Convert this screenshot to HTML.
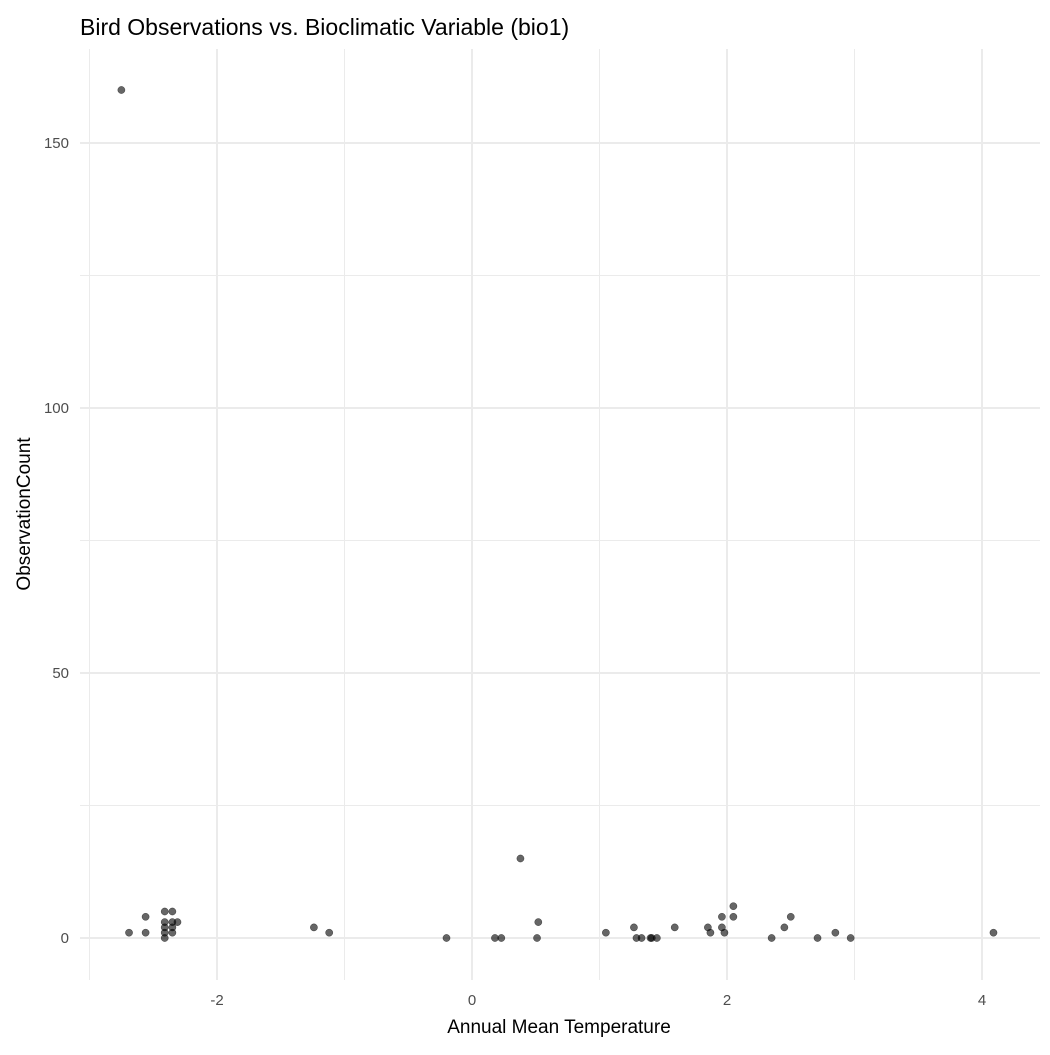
<!DOCTYPE html>
<html><head><meta charset="utf-8"><style>
body{margin:0;background:#fff;font-family:"Liberation Sans",sans-serif}
svg text{font-family:"Liberation Sans",sans-serif}
</style></head><body>
<svg id="chart" width="1050" height="1050" xmlns="http://www.w3.org/2000/svg">
<rect width="1050" height="1050" fill="#fff"/>
<text x="80" y="35" font-size="23" fill="#000">Bird Observations vs. Bioclimatic Variable (bio1)</text>
<g id="grid"></g><g id="points"></g><g id="ticks"></g>
<text x="559" y="1033" font-size="19" text-anchor="middle" fill="#000">Annual Mean Temperature</text>
<text transform="translate(30,514) rotate(-90)" font-size="19" text-anchor="middle" fill="#000">ObservationCount</text>
</svg>
<script>
const xVals=[-2.75,-2.69,-2.56,-2.56,-2.41,-2.35,-2.41,-2.35,-2.31,-2.41,-2.35,-2.41,-2.35,-2.41,-1.24,-1.12,-0.2,0.18,0.23,0.38,0.51,0.52,1.05,1.27,1.29,1.33,1.40,1.41,1.45,1.59,1.85,1.87,1.96,1.96,1.98,2.05,2.05,2.35,2.45,2.50,2.71,2.85,2.97,4.09];
const yVals=[160,1,1,4,5,5,3,3,3,2,2,1,1,0,2,1,0,0,0,15,0,3,1,2,0,0,0,0,0,2,2,1,4,2,1,6,4,0,2,4,0,1,0,1];
const xTicks=[-2,0,2,4];
const yTicks=[0,50,100,150];
const NS="http://www.w3.org/2000/svg";
const L=80,R=1040,T=49,B=980;
const X=v=>472+v*127.5;
const Y=v=>938-v*5.3;
function mk(tag,attrs,parent){const e=document.createElementNS(NS,tag);for(const k in attrs)e.setAttribute(k,attrs[k]);parent.appendChild(e);return e;}
const g=document.getElementById('grid'),p=document.getElementById('points'),t=document.getElementById('ticks');
[-3,-1,1,3].forEach(v=>{const l=mk('line',{x1:X(v),x2:X(v),y1:T,y2:B,stroke:'#ebebeb','stroke-width':1},g);

});
[25,75,125].forEach(v=>{const l=mk('line',{x1:L,x2:R,y1:Y(v),y2:Y(v),stroke:'#ebebeb','stroke-width':1},g);

});
xTicks.forEach(v=>{const l=mk('line',{x1:X(v),x2:X(v),y1:T,y2:B,stroke:'#ebebeb','stroke-width':2},g);


const tx=mk('text',{x:X(v),y:1005,'font-size':15,'text-anchor':'middle',fill:'#4d4d4d'},t);tx.textContent=v;

});
yTicks.forEach(v=>{const l=mk('line',{x1:L,x2:R,y1:Y(v),y2:Y(v),stroke:'#ebebeb','stroke-width':2},g);


const tx=mk('text',{x:69,y:Y(v)+5,'font-size':15,'text-anchor':'end',fill:'#4d4d4d'},t);tx.textContent=v;

});
xVals.forEach((v,i)=>{const c=mk('circle',{cx:X(v),cy:Y(yVals[i]),r:3.6,fill:'#000','fill-opacity':0.6,stroke:'#000','stroke-opacity':0.6,'stroke-width':0.5},p);

});
</script>
</body></html>
